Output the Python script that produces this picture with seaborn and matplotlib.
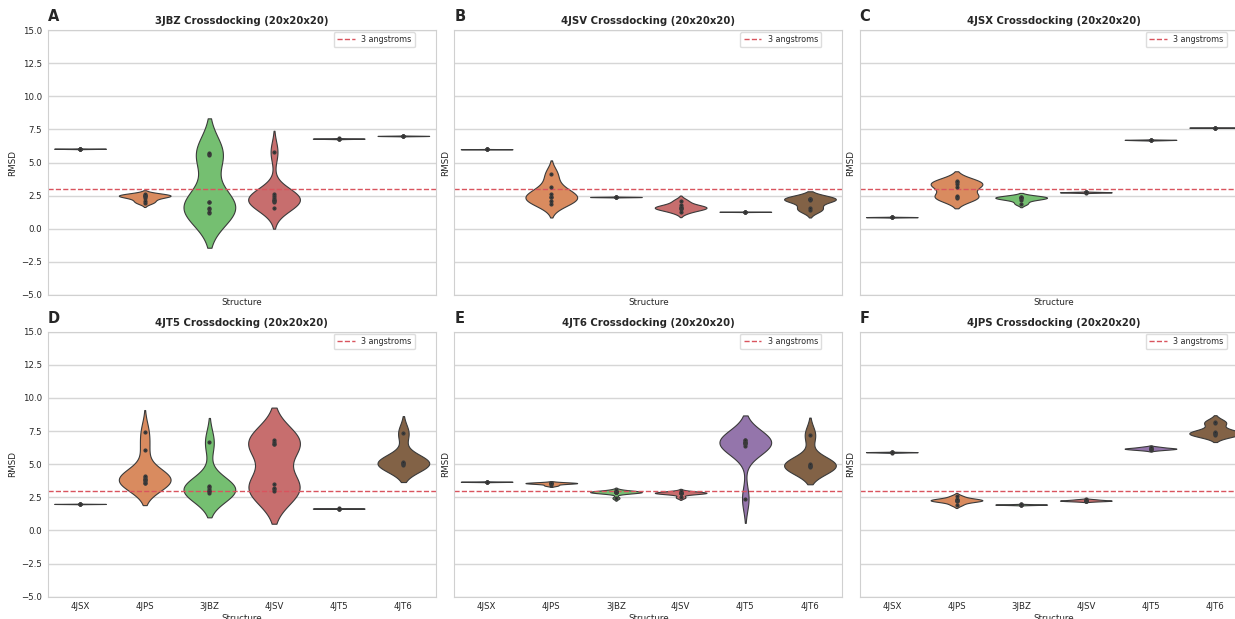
import matplotlib
matplotlib.use("Agg")
import matplotlib.pyplot as plt
import pandas as pd
import seaborn as sns

# Ligand structures docked into each receptor (x-axis order)
structures = ["4JSX", "4JPS", "3JBZ", "4JSV", "4JT5", "4JT6"]
# Receptor used for each panel, with its panel letter
receptors = ["3JBZ", "4JSV", "4JSX", "4JT5", "4JT6", "4JPS"]
panel_letters = ["A", "B", "C", "D", "E", "F"]
threshold = 3.0

# RMSD (angstroms) of the docked poses, one dict per receptor
rmsd_3jbz = {
    "4JSX": [6.02, 6.03, 6.04, 6.04, 6.05],
    "4JPS": [1.95, 2.1, 2.3, 2.45, 2.5, 2.5, 2.55, 2.6],
    "3JBZ": [1.2, 1.3, 1.5, 1.6, 2.0, 2.0, 5.6, 5.65, 5.7],
    "4JSV": [1.6, 2.0, 2.1, 2.2, 2.2, 2.3, 2.5, 2.6, 5.8],
    "4JT5": [6.78, 6.8, 6.8, 6.82],
    "4JT6": [6.99, 7.0, 7.01, 7.02],
}
rmsd_4jsv = {
    "4JSX": [5.99, 6.0, 6.0, 6.01],
    "4JPS": [1.88, 2.13, 2.38, 2.4, 2.63, 3.18, 4.13],
    "3JBZ": [2.38, 2.39, 2.4, 2.41],
    "4JSV": [1.25, 1.5, 1.55, 1.6, 1.65, 1.83, 2.13],
    "4JT5": [1.27, 1.28, 1.28, 1.29],
    "4JT6": [1.4, 1.58, 2.2, 2.23, 2.25, 2.28],
}
rmsd_4jsx = {
    "4JSX": [0.86, 0.87, 0.88, 0.89],
    "4JPS": [2.3, 2.4, 2.45, 3.15, 3.35, 3.5, 3.58],
    "3JBZ": [1.9, 2.2, 2.3, 2.35, 2.4, 2.43],
    "4JSV": [2.72, 2.74, 2.75, 2.76, 2.78],
    "4JT5": [6.68, 6.7, 6.71, 6.72],
    "4JT6": [7.62, 7.63, 7.63, 7.64],
}
rmsd_4jt5 = {
    "4JSX": [1.99, 2.0, 2.0, 2.01],
    "4JPS": [3.55, 3.6, 3.7, 3.8, 3.85, 3.9, 4.05, 4.1, 6.1, 7.45],
    "3JBZ": [2.83, 2.95, 3.0, 3.13, 3.28, 3.35, 6.65],
    "4JSV": [2.95, 3.1, 3.2, 3.53, 6.5, 6.53, 6.7, 6.83],
    "4JT5": [1.64, 1.65, 1.65, 1.66],
    "4JT6": [4.95, 5.0, 5.08, 5.1, 5.2, 7.33],
}
rmsd_4jt6 = {
    "4JSX": [3.66, 3.67, 3.68, 3.69],
    "4JPS": [3.4, 3.55, 3.57, 3.58, 3.6],
    "3JBZ": [2.45, 2.88, 2.88, 2.88, 2.89, 2.9, 2.9, 2.91, 3.03],
    "4JSV": [2.5, 2.8, 2.82, 2.83, 2.84, 2.85, 2.95],
    "4JT5": [2.4, 6.4, 6.5, 6.6, 6.63, 6.65, 6.7, 6.8, 6.85],
    "4JT6": [4.8, 4.85, 4.9, 4.95, 5.0, 7.2],
}
rmsd_4jps = {
    "4JSX": [5.88, 5.9, 5.91, 5.92],
    "4JPS": [1.95, 2.2, 2.25, 2.28, 2.3, 2.35, 2.58],
    "3JBZ": [1.92, 1.94, 1.95, 1.96, 1.98],
    "4JSV": [2.2, 2.24, 2.25, 2.26, 2.3, 2.35],
    "4JT5": [6.08, 6.15, 6.18, 6.2, 6.3],
    "4JT6": [7.22, 7.28, 7.33, 7.36, 7.42, 8.13, 8.15],
}
panel_data = [rmsd_3jbz, rmsd_4jsv, rmsd_4jsx, rmsd_4jt5, rmsd_4jt6, rmsd_4jps]


def to_long(d):
    rows = [(s, v) for s in structures for v in d[s]]
    return pd.DataFrame(rows, columns=["Structure", "RMSD"])


sns.set_theme(style="whitegrid")
plt.rcParams["font.family"] = ["DejaVu Sans"]
plt.rcParams["axes.edgecolor"] = "#d0d0d0"
plt.rcParams["grid.color"] = "#d6d6d6"

W, H = 1235, 619
fig = plt.figure(figsize=(W / 100, H / 100), dpi=100)

col_left = [47.7, 454.3, 859.5]
row_top = [30.0, 331.7]
ax_w, ax_h = 388.0, 265.0

axes = []
for i, (rec, letter, data) in enumerate(zip(receptors, panel_letters, panel_data)):
    r, c = divmod(i, 3)
    rect = [col_left[c] / W, 1 - (row_top[r] + ax_h) / H, ax_w / W, ax_h / H]
    ax = fig.add_axes(rect, sharey=axes[0] if axes else None)
    axes.append(ax)
    df = to_long(data)
    sns.violinplot(
        data=df, x="Structure", y="RMSD", hue="Structure", order=structures,
        hue_order=structures, palette="muted", legend=False,
        density_norm="width", inner="point", cut=2, linewidth=0.8,
        linecolor="#3a3a3a", inner_kws=dict(s=4, color="#2a2a2a"), ax=ax,
    )
    ax.axhline(threshold, color="#d9545e", ls="--", lw=1.0, label="3 angstroms")
    ax.legend(loc="upper right", bbox_to_anchor=(1 - 21 / ax_w, 1 - 2 / ax_h),
              borderaxespad=0, fontsize=5.8, frameon=True, handlelength=2.2,
              framealpha=1, edgecolor="#dddddd")
    ax.set_ylim(-5, 15)
    ax.set_yticks([-5, -2.5, 0, 2.5, 5, 7.5, 10, 12.5, 15])
    ax.set_title(f"{rec} Crossdocking (20x20x20)", fontsize=7.3,
                 fontweight="bold", pad=4)
    ax.text(0, 1.022, letter, transform=ax.transAxes, fontsize=10.5,
            fontweight="bold", ha="left", va="bottom")
    ax.set_xlabel("Structure", fontsize=6.3, labelpad=2)
    ax.set_ylabel("RMSD", fontsize=6.3, labelpad=3)
    ax.tick_params(axis="both", labelsize=6.2, length=0, pad=4)
    if r == 0:
        ax.tick_params(axis="x", labelbottom=False)
    if c != 0:
        ax.tick_params(axis="y", labelleft=False)
    for sp in ax.spines.values():
        sp.set_linewidth(0.8)

fig.savefig("out.png", dpi=100)
